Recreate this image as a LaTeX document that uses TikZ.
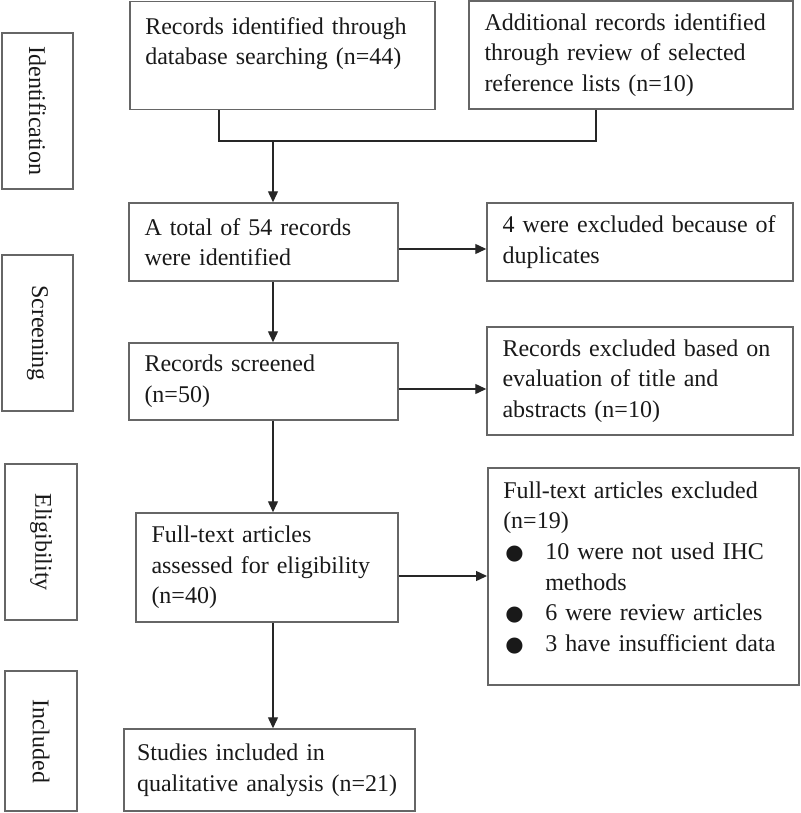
\documentclass[tikz,border=0pt]{standalone}
\usepackage{fontspec}
\setmainfont{Liberation Serif}
\newfontfamily\dotfont{DejaVu Sans}
\usetikzlibrary{
  arrows.meta,
  calc,
  positioning
}
\newcommand{\itemdot}{\makebox[21pt][l]{\hspace{1pt}{\dotfont\fontsize{10.5}{12}\selectfont ●}}}
\newcommand{\itemgap}{\hspace*{21pt}}
\newcommand{\recfont}{\fontsize{12}{15.3}\selectfont\setlength{\spaceskip}{2.6pt plus 1pt minus 0.5pt}}

\tikzset{
  stage/.style={draw=black!60, line width=0.75pt, rotate=-90, inner sep=0pt,
    font=\fontsize{12}{15}\selectfont, text=black!90},
  recbox/.style={draw=black!60, line width=0.75pt, inner xsep=7.75pt, inner ysep=5pt,
    align=left, font=\recfont, text=black!90},
  flow/.style={line width=0.7pt, black!85, -{Triangle[length=5.5pt,width=5pt]}},
  merge/.style={line width=0.7pt, black!85}
}

\begin{document}
\begin{tikzpicture}[x=0.5pt,y=-0.5pt]
  \useasboundingbox (0,0) rectangle (800,813);

  % stage labels
  \node[stage, minimum width=78pt, minimum height=35.5pt] (identification) at (37.5,111) {Identification};
  \node[stage, minimum width=78pt, minimum height=35.5pt] (screening) at (37.5,333) {Screening};
  \node[stage, minimum width=78pt, minimum height=36pt] (eligibility) at (41,542) {Eligibility};
  \node[stage, minimum width=70pt, minimum height=36pt] (included) at (41,741) {Included};

  % records
  \node[recbox, anchor=north west, minimum width=152.5pt, minimum height=54pt, text width=137pt, text depth=29.8pt]
    (recDb) at (129,1) {Records identified through\\ database searching (n=44)};
  \node[recbox, minimum width=162pt, minimum height=54pt, text width=146.5pt]
    (recRef) at (631,55) {Additional records identified\\ through review of selected\\ reference lists (n=10)};
  \node[recbox, minimum width=134.5pt, minimum height=39pt, text width=119pt]
    (recTotal) at (263.5,242) {A total of 54 records\\ were identified};
  \node[recbox, minimum width=153pt, minimum height=39pt, text width=137.5pt]
    (recDup) at (640,242) {4 were excluded because of\\ duplicates};
  \node[recbox, minimum width=134.5pt, minimum height=38.5pt, text width=119pt]
    (recScreened) at (263.5,381.5) {Records screened\\ (n=50)};
  \node[recbox, minimum width=153pt, minimum height=54pt, text width=137.5pt]
    (recTitle) at (640,381) {Records excluded based on\\ evaluation of title and\\ abstracts (n=10)};
  \node[recbox, minimum width=131pt, minimum height=54.5pt, text width=115.5pt]
    (fullText) at (267,567.5) {Full-text articles\\ assessed for eligibility\\ (n=40)};
  \node[recbox, anchor=north west, minimum width=155.5pt, minimum height=108.5pt, text width=140pt, text depth=86.3pt]
    (fullExcl) at (487,467) {Full-text articles excluded\\ (n=19)\\
      \itemdot 10 were not used IHC\\ \itemgap methods\\
      \itemdot 6 were review articles\\ \itemdot 3 have insufficient data};
  \node[recbox, inner xsep=6.5pt, minimum width=145.5pt, minimum height=41pt, text width=132.5pt]
    (studies) at (269.5,770) {Studies included in\\ qualitative analysis (n=21)};

  % connectors
  \coordinate (joinL) at (219,141);
  \coordinate (joinR) at (596,141);
  \coordinate (spine) at (273,141);
  \draw[merge] (recDb.south -| joinL) -- (joinL) -- (joinR) -- (recRef.south -| joinR);
  \draw[flow] (spine) -- (spine |- recTotal.north);
  \draw[flow] (recTotal.south -| spine) -- (recScreened.north -| spine);
  \draw[flow] (recScreened.south -| spine) -- (fullText.north -| spine);
  \draw[flow] (fullText.south -| spine) -- (studies.north -| spine);
  \draw[flow] ([yshift=-3.5pt]recTotal.east) -- ([yshift=-3.5pt]recTotal.east -| recDup.west);
  \draw[flow] ([yshift=-3.75pt]recScreened.east) -- ([yshift=-3.75pt]recScreened.east -| recTitle.west);
  \draw[flow] ([yshift=-4.25pt]fullText.east) -- ([yshift=-4.25pt]fullText.east -| fullExcl.west);
\end{tikzpicture}
\end{document}
